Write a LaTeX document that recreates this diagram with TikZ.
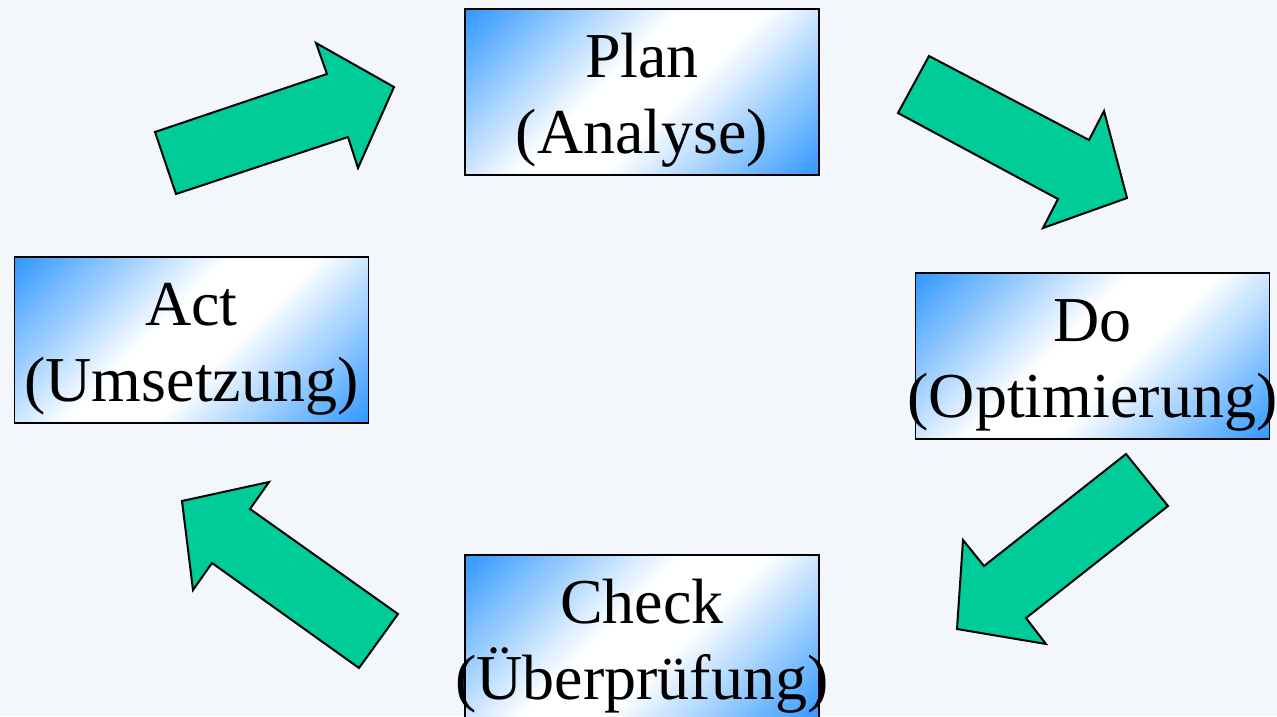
\documentclass[tikz,border=0pt]{standalone}
\usepackage{fontspec}
\setmainfont{Liberation Serif}
\definecolor{bgc}{RGB}{243,246,251}
\definecolor{arrowc}{RGB}{0,204,153}
\definecolor{boxblue}{RGB}{51,153,255}
\pgfdeclarehorizontalshading{bluewhite}{100bp}{color(0bp)=(boxblue); color(15bp)=(boxblue); color(44bp)=(white); color(56bp)=(white); color(85bp)=(boxblue); color(100bp)=(boxblue)}
\tikzset{
  phase/.style={draw=black, line width=1.8pt, shading=bluewhite, shading angle=-45,
    minimum width=354pt, minimum height=166pt, inner sep=0pt},
  lbl/.style={anchor=base, inner sep=0pt, font=\fontsize{64}{77}\selectfont},
  blockarrow/.style={draw=black, fill=arrowc, line width=2pt, line join=miter}
}
\begin{document}
\begin{tikzpicture}[x=1pt,y=-1pt]
\useasboundingbox (0,0) rectangle (1277,716);
\clip (0,0) rectangle (1277,716);
\fill[bgc] (0,0) rectangle (1277,716);
% boxes
\node[phase] (plan) at (642,92) {};
\node[phase] (act) at (191.5,340) {};
\node[phase] (do) at (1092.5,356) {};
\node[phase] (check) at (642,638) {};
% labels
\node[lbl] (plan1) at (642,77) {Plan};
\node[lbl] (plan2) at (642,153) {(Analyse)};
\node[lbl] (act1) at (191.5,325) {Act};
\node[lbl] (act2) at (191.5,401) {(Umsetzung)};
\node[lbl] (do1) at (1092.5,341) {Do};
\node[lbl] (do2) at (1092.5,417) {(Optimierung)};
\node[lbl] (check1) at (642,623) {Check};
\node[lbl] (check2) at (642,699) {(Überprüfung)};
% block arrows
\draw[blockarrow] (155,132) -- (176,194) -- (348,137) -- (358,168) -- (394,87) -- (316,43) -- (327,74) -- cycle;
\draw[blockarrow] (929,56) -- (898,113) -- (1058,199) -- (1043,228) -- (1127,198) -- (1104,111) -- (1089,140) -- cycle;
\draw[blockarrow] (1126,454) -- (1168,506) -- (1026,618) -- (1046,644) -- (957,629) -- (963,540) -- (984,566) -- cycle;
\draw[blockarrow] (398,614) -- (359,668) -- (212,563) -- (193,590) -- (182,501) -- (269,482) -- (250,509) -- cycle;
\end{tikzpicture}
\end{document}
